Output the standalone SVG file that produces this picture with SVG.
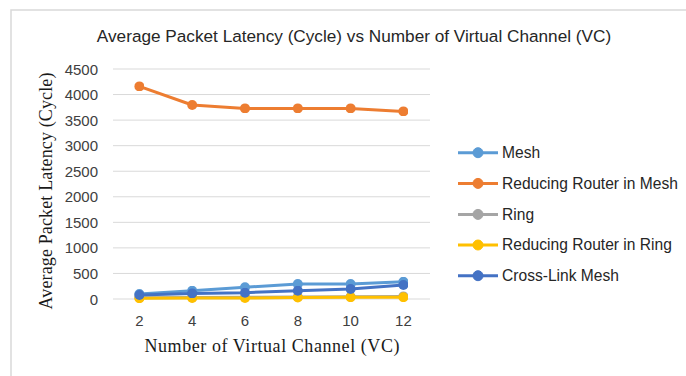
<svg xmlns="http://www.w3.org/2000/svg" width="686" height="376" viewBox="0 0 686 376">
  <style>
    .frame { fill: none; stroke: #d9d9d9; stroke-width: 1.5; }
    .grid { stroke: #d9d9d9; stroke-width: 1; }
    .lbl { font-family: "Liberation Sans", Arial, sans-serif; font-size: 15px; fill: #404040; }
    .ytick { text-anchor: end; }
    .xtick { text-anchor: middle; }
    .title { font-family: "Liberation Sans", Arial, sans-serif; font-size: 17.2px; fill: #262626; text-anchor: middle; }
    .axis-title { font-family: "Liberation Serif", "Times New Roman", serif; font-size: 18px; fill: #1a1a1a; text-anchor: middle; }
    .series { fill: none; stroke-width: 3; stroke-linejoin: round; stroke-linecap: round; }
    .legend-text { font-family: "Liberation Sans", Arial, sans-serif; font-size: 15.6px; fill: #262626; }
    .mesh { stroke: #5b9bd5; fill: #5b9bd5; }
    .rrm { stroke: #ed7d31; fill: #ed7d31; }
    .ring { stroke: #a5a5a5; fill: #a5a5a5; }
    .rrr { stroke: #ffc000; fill: #ffc000; }
    .clm { stroke: #4472c4; fill: #4472c4; }
  </style>
  <defs>
    <marker id="dot-mesh" viewBox="0 0 10 10" refX="5" refY="5" markerWidth="10" markerHeight="10" markerUnits="userSpaceOnUse"><circle cx="5" cy="5" r="5" fill="#5b9bd5"/></marker>
    <marker id="dot-rrm" viewBox="0 0 10 10" refX="5" refY="5" markerWidth="10" markerHeight="10" markerUnits="userSpaceOnUse"><circle cx="5" cy="5" r="5" fill="#ed7d31"/></marker>
    <marker id="dot-ring" viewBox="0 0 10 10" refX="5" refY="5" markerWidth="10" markerHeight="10" markerUnits="userSpaceOnUse"><circle cx="5" cy="5" r="5" fill="#a5a5a5"/></marker>
    <marker id="dot-rrr" viewBox="0 0 10 10" refX="5" refY="5" markerWidth="10" markerHeight="10" markerUnits="userSpaceOnUse"><circle cx="5" cy="5" r="5" fill="#ffc000"/></marker>
    <marker id="dot-clm" viewBox="0 0 10 10" refX="5" refY="5" markerWidth="10" markerHeight="10" markerUnits="userSpaceOnUse"><circle cx="5" cy="5" r="5" fill="#4472c4"/></marker>
  </defs>

  <rect width="686" height="376" fill="#ffffff"/>
  <!-- chart area frame (top and left edges) -->
  <polyline class="frame" points="11,376 11,10 686,10"/>

  <text class="title" x="354" y="42">Average Packet Latency (Cycle) vs Number of Virtual Channel (VC)</text>

  <!-- horizontal gridlines, 500 per step -->
  <g id="gridlines">
    <line class="grid" x1="113" y1="69" x2="430" y2="69"/>
    <line class="grid" x1="113" y1="94.56" x2="430" y2="94.56"/>
    <line class="grid" x1="113" y1="120.11" x2="430" y2="120.11"/>
    <line class="grid" x1="113" y1="145.67" x2="430" y2="145.67"/>
    <line class="grid" x1="113" y1="171.22" x2="430" y2="171.22"/>
    <line class="grid" x1="113" y1="196.78" x2="430" y2="196.78"/>
    <line class="grid" x1="113" y1="222.33" x2="430" y2="222.33"/>
    <line class="grid" x1="113" y1="247.89" x2="430" y2="247.89"/>
    <line class="grid" x1="113" y1="273.44" x2="430" y2="273.44"/>
    <line class="grid" x1="113" y1="299" x2="430" y2="299"/>
  </g>

  <g id="y-axis">
    <text class="lbl ytick" x="98" y="74.5">4500</text>
    <text class="lbl ytick" x="98" y="100">4000</text>
    <text class="lbl ytick" x="98" y="125.6">3500</text>
    <text class="lbl ytick" x="98" y="151.2">3000</text>
    <text class="lbl ytick" x="98" y="176.7">2500</text>
    <text class="lbl ytick" x="98" y="202.3">2000</text>
    <text class="lbl ytick" x="98" y="227.8">1500</text>
    <text class="lbl ytick" x="98" y="253.4">1000</text>
    <text class="lbl ytick" x="98" y="278.9">500</text>
    <text class="lbl ytick" x="98" y="304.5">0</text>
    <text class="axis-title" transform="translate(52,191) rotate(-90)" textLength="237" lengthAdjust="spacing">Average Packet Latency (Cycle)</text>
  </g>

  <g id="x-axis">
    <text class="lbl xtick" x="139.4" y="326">2</text>
    <text class="lbl xtick" x="192.2" y="326">4</text>
    <text class="lbl xtick" x="245" y="326">6</text>
    <text class="lbl xtick" x="297.8" y="326">8</text>
    <text class="lbl xtick" x="350.6" y="326">10</text>
    <text class="lbl xtick" x="403.4" y="326">12</text>
    <text class="axis-title" x="272" y="352" textLength="255" lengthAdjust="spacing">Number of Virtual Channel (VC)</text>
  </g>

  <!-- data series -->
  <g id="connectors">
    <polyline id="series-mesh" class="series mesh" style="fill:none" marker-start="url(#dot-mesh)" marker-mid="url(#dot-mesh)" marker-end="url(#dot-mesh)"
      points="139.4,294 192.2,290.7 245,287.3 297.8,284 350.6,284 403.4,281.7"/>
    <polyline id="series-rrm" class="series rrm" style="fill:none" marker-start="url(#dot-rrm)" marker-mid="url(#dot-rrm)" marker-end="url(#dot-rrm)"
      points="139.4,86.4 192.2,105 245,108.4 297.8,108.4 350.6,108.4 403.4,111.4"/>
    <polyline id="series-ring" class="series ring" style="fill:none" marker-start="url(#dot-ring)" marker-mid="url(#dot-ring)" marker-end="url(#dot-ring)"
      points="139.4,297.7 192.2,297.5 245,297.2 297.8,297 350.6,296.7 403.4,296.4"/>
    <polyline id="series-rrr" class="series rrr" style="fill:none" marker-start="url(#dot-rrr)" marker-mid="url(#dot-rrr)" marker-end="url(#dot-rrr)"
      points="139.4,298.2 192.2,298 245,298 297.8,297.5 350.6,297.2 403.4,297.2"/>
    <polyline id="series-clm" class="series clm" style="fill:none" marker-start="url(#dot-clm)" marker-mid="url(#dot-clm)" marker-end="url(#dot-clm)"
      points="139.4,295 192.2,293.4 245,292.7 297.8,290.7 350.6,289 403.4,285"/>
  </g>

  <!-- legend -->
  <g id="legend">
    <g id="legend-mesh">
      <line class="mesh" x1="458" y1="152.7" x2="498" y2="152.7" stroke-width="3"/>
      <circle class="mesh" cx="478" cy="152.7" r="5"/>
      <text class="legend-text" x="502" y="158">Mesh</text>
    </g>
    <g id="legend-rrm">
      <line class="rrm" x1="458" y1="183.4" x2="498" y2="183.4" stroke-width="3"/>
      <circle class="rrm" cx="478" cy="183.4" r="5"/>
      <text class="legend-text" x="502" y="188.7">Reducing Router in Mesh</text>
    </g>
    <g id="legend-ring">
      <line class="ring" x1="458" y1="214.4" x2="498" y2="214.4" stroke-width="3"/>
      <circle class="ring" cx="478" cy="214.4" r="5"/>
      <text class="legend-text" x="502" y="219.7">Ring</text>
    </g>
    <g id="legend-rrr">
      <line class="rrr" x1="458" y1="245" x2="498" y2="245" stroke-width="3"/>
      <circle class="rrr" cx="478" cy="245" r="5"/>
      <text class="legend-text" x="502" y="250.3">Reducing Router in Ring</text>
    </g>
    <g id="legend-clm">
      <line class="clm" x1="458" y1="275.7" x2="498" y2="275.7" stroke-width="3"/>
      <circle class="clm" cx="478" cy="275.7" r="5"/>
      <text class="legend-text" x="502" y="281">Cross-Link Mesh</text>
    </g>
  </g>
</svg>
